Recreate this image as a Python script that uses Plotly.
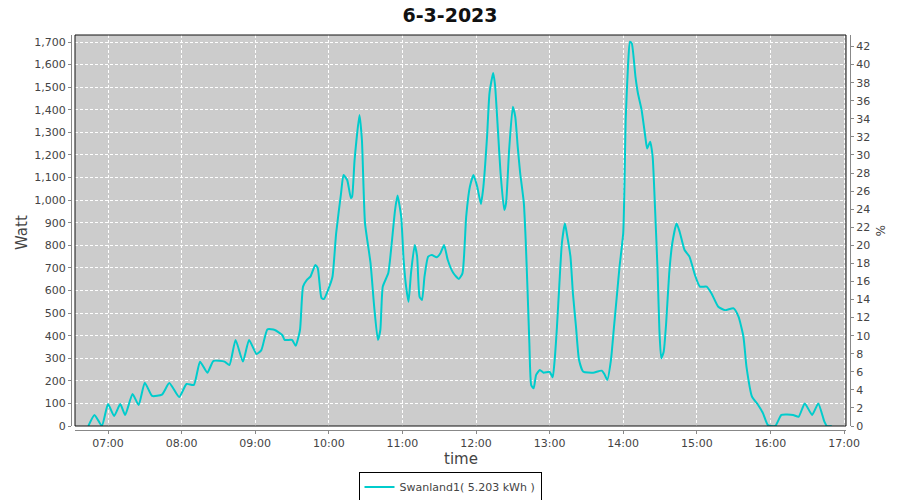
import plotly.graph_objects as go

DAY = "2023-03-06"
times = [
    "06:44:00", "06:49:00", "06:55:00", "07:00:00", "07:05:00", "07:10:00", "07:14:00", "07:20:00",
    "07:25:00", "07:30:00", "07:36:00", "07:44:00", "07:50:00", "07:58:00", "08:04:00", "08:10:00",
    "08:15:00", "08:21:00", "08:26:00", "08:35:00", "08:39:00", "08:44:00", "08:50:00", "08:55:00",
    "09:01:00", "09:05:00", "09:10:00", "09:16:00", "09:22:00", "09:24:00", "09:30:00", "09:33:00",
    "09:36:30", "09:39:00", "09:42:00", "09:45:00", "09:49:00", "09:51:00", "09:54:00", "09:56:00",
    "10:00:00", "10:03:00", "10:06:00", "10:10:00", "10:12:00", "10:15:00", "10:18:00", "10:19:00",
    "10:21:00", "10:25:00", "10:27:00", "10:29:30", "10:34:00", "10:37:00", "10:40:00", "10:42:00",
    "10:44:00", "10:48:30", "10:51:00", "10:54:00", "10:56:00", "10:59:00", "11:01:00", "11:03:00",
    "11:05:00", "11:07:00", "11:10:00", "11:12:00", "11:14:00", "11:16:00", "11:18:00", "11:21:00",
    "11:24:00", "11:28:00", "11:31:00", "11:34:00", "11:37:00", "11:41:30", "11:46:00", "11:49:00",
    "11:52:00", "11:55:00", "11:58:00", "12:01:00", "12:04:00", "12:06:00", "12:09:00", "12:11:00",
    "12:14:00", "12:15:30", "12:18:00", "12:20:00", "12:23:00", "12:24:30", "12:27:00", "12:30:00",
    "12:32:00", "12:34:00", "12:36:00", "12:39:00", "12:40:30", "12:42:00", "12:43:30", "12:45:00",
    "12:47:00", "12:49:00", "12:52:00", "12:55:00", "13:00:00", "13:02:30", "13:04:00", "13:06:00",
    "13:08:00", "13:10:00", "13:12:30", "13:14:00", "13:17:00", "13:19:00", "13:21:30", "13:24:00",
    "13:27:30", "13:35:30", "13:42:30", "13:45:00", "13:47:00", "13:50:00", "13:52:30", "13:55:00",
    "13:57:00", "14:00:00", "14:01:00", "14:02:00", "14:04:00", "14:05:30", "14:07:00", "14:10:00",
    "14:12:00", "14:15:00", "14:18:00", "14:19:30", "14:22:00", "14:24:00", "14:26:00", "14:28:00",
    "14:29:30", "14:31:00", "14:33:00", "14:35:00", "14:37:30", "14:40:00", "14:43:30", "14:46:00",
    "14:50:00", "14:54:00", "14:58:30", "15:02:30", "15:08:00", "15:12:00", "15:17:30", "15:23:00",
    "15:30:00", "15:34:00", "15:38:00", "15:40:30", "15:45:00", "15:50:00", "15:54:00", "15:58:00",
    "16:04:00", "16:09:00", "16:18:30", "16:23:00", "16:28:00", "16:34:00", "16:39:00", "16:44:00",
    "16:46:00", "16:50:00",
]
watts = [
    0, 49, 0, 97, 44, 97, 49, 142,
    93, 192, 133, 139, 190, 128, 186, 182,
    285, 236, 288, 285, 270, 381, 285, 381,
    319, 336, 428, 425, 403, 381, 381, 355,
    425, 617, 646, 661, 713, 699, 567, 562,
    611, 661, 854, 1031, 1111, 1089, 1009, 1015,
    1177, 1377, 1266, 899, 722, 528, 381, 425,
    617, 677, 794, 956, 1020, 927, 735, 617,
    550, 677, 801, 750, 572, 558, 661, 750,
    757, 747, 765, 801, 735, 677, 651, 677,
    927, 1059, 1111, 1059, 983, 1059, 1281, 1474,
    1563, 1510, 1297, 1120, 956, 987, 1222, 1413,
    1369, 1236, 1120, 987, 823, 602, 367, 181,
    167, 226, 248, 236, 240, 216, 285, 440,
    632, 809, 897, 853, 750, 587, 440, 292,
    240, 236, 245, 226, 204, 292, 440, 587,
    705, 853, 1059, 1354, 1605, 1701, 1694, 1546,
    1473, 1399, 1281, 1229, 1259, 1192, 956, 690,
    425, 300, 329, 455, 676, 809, 897, 860,
    779, 750, 668, 617, 617, 587, 528, 513,
    521, 484, 395, 262, 130, 93, 56, 4,
    0, 49, 49, 41, 100, 49, 100, 19,
    0, 0,
]
CAPACITY_W = 4000
series_name = "Swanland1( 5.203 kWh )"
title_text = "6-3-2023"
x_title = "time"
y_title = "Watt"
y2_title = "%"

x = [f"{DAY} {t}" for t in times]
pct = [w / CAPACITY_W * 100 for w in watts]

LINE = "#00CCCC"
TXT = "#444444"
AX = "#888888"
FONT = "DejaVu Sans"
GRID_DASH = "3px,2px"

fig = go.Figure()
fig.add_trace(go.Scatter(
    x=x, y=watts, mode="lines", name=series_name,
    line=dict(color=LINE, width=2, shape="spline", smoothing=0.5),
))
fig.add_trace(go.Scatter(
    x=x, y=pct, mode="lines", yaxis="y2", showlegend=False, hoverinfo="skip",
    line=dict(color=LINE, width=0), opacity=0,
))

W, H = 900, 500
ml, mr, mt, mb = 71, 50, 35, 70
pw, ph = W - ml - mr, H - mt - mb


def px_x(p):
    return (p - ml) / pw


def px_y(p):
    return (H - mb - p) / ph


fig.update_layout(
    width=W, height=H,
    margin=dict(l=ml, r=mr, t=mt, b=mb, pad=0, autoexpand=False),
    paper_bgcolor="white",
    plot_bgcolor="#CCCCCC",
    font=dict(family=FONT, size=11, color=TXT),
    title=dict(text=f"<b>{title_text}</b>", x=0.5, xanchor="center", y=1 - 15 / H, yanchor="middle",
               font=dict(family=FONT, size=19, color="#111111")),
    xaxis=dict(
        type="date",
        domain=[4 / pw, 1 - 4 / pw],
        range=[f"{DAY} 06:33:06", f"{DAY} 17:01:37"],
        tickformat="%H:%M", dtick=3600000, tick0=f"{DAY} 07:00",
        showgrid=True, gridcolor="white", griddash=GRID_DASH, gridwidth=1,
        showline=True, linecolor=AX, linewidth=1,
        ticks="outside", ticklen=3, tickcolor=AX,
        anchor="free", position=0, automargin=False,
        zeroline=False,
    ),
    yaxis=dict(
        domain=[4 / ph, 1],
        range=[0, 1731],
        dtick=100, tickformat=",d",
        showgrid=True, gridcolor="white", griddash=GRID_DASH, gridwidth=1,
        showline=True, linecolor=AX, linewidth=1,
        ticks="outside", ticklen=3, tickcolor=AX,
        anchor="free", position=0, automargin=False,
        zeroline=False,
    ),
    yaxis2=dict(
        overlaying="y", side="right",
        range=[0, 1731 / CAPACITY_W * 100],
        dtick=2,
        showgrid=False,
        showline=True, linecolor=AX, linewidth=1,
        ticks="outside", ticklen=3, tickcolor=AX,
        anchor="free", position=1, automargin=False,
        zeroline=False,
    ),
    legend=dict(
        orientation="h", x=0.5, xanchor="center", xref="container",
        y=1 - 487 / H, yanchor="middle", yref="container",
        bordercolor="#000000", borderwidth=1, bgcolor="white",
        font=dict(size=11, color=TXT), itemwidth=30,
    ),
    showlegend=True,
    annotations=[
        dict(text=y2_title, xref="paper", yref="paper", x=px_x(880), y=px_y(230),
             xanchor="center", yanchor="middle", showarrow=False, textangle=90,
             font=dict(size=12, color=TXT)),
        dict(text=y_title, xref="paper", yref="paper", x=px_x(22), y=px_y(233),
             xanchor="center", yanchor="middle", showarrow=False, textangle=-90,
             font=dict(size=15, color=TXT)),
        dict(text=x_title, xref="paper", yref="paper", x=px_x(461), y=px_y(459),
             xanchor="center", yanchor="middle", showarrow=False,
             font=dict(size=15, color=TXT)),
    ],
    shapes=[dict(type="rect", xref="x domain", yref="y domain", x0=0, x1=1, y0=0, y1=1,
                 line=dict(color="#111111", width=1), layer="above")],
)

fig.write_html("out.html", config={"displayModeBar": False},
               post_script="document.body.style.margin='0';document.body.style.overflow='hidden';")
